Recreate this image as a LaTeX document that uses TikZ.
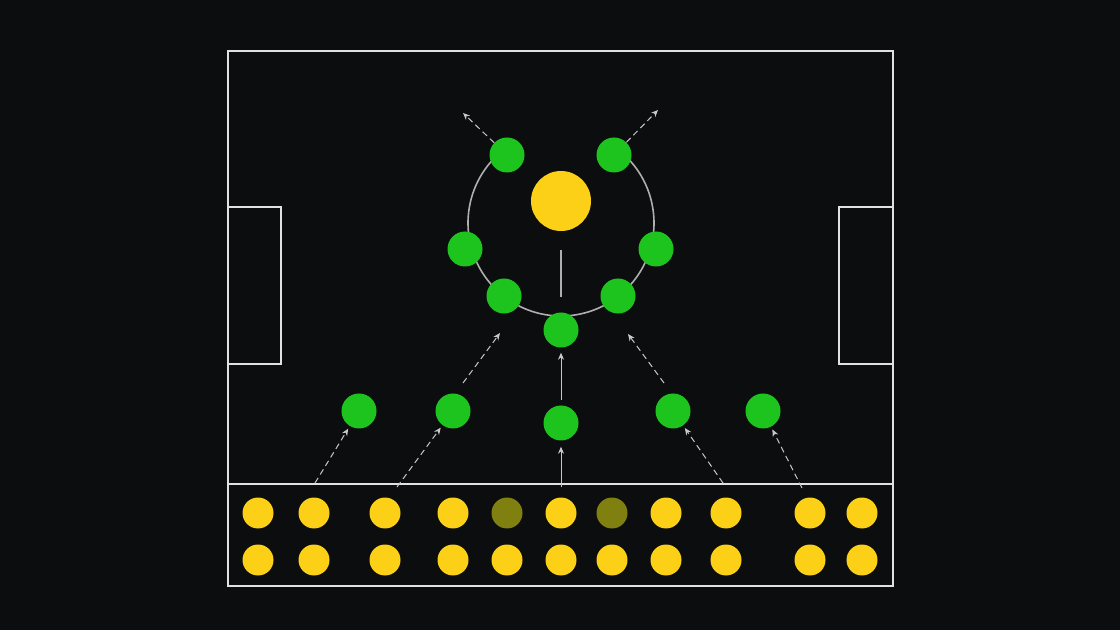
\documentclass[tikz,border=0pt]{standalone}
\usetikzlibrary{arrows.meta}
\definecolor{bg}{RGB}{12,13,14}
\definecolor{pitch}{RGB}{225,225,225}
\definecolor{ring}{RGB}{175,175,175}
\definecolor{pgreen}{RGB}{30,196,30}
\definecolor{pyellow}{RGB}{252,208,22}
\definecolor{polive}{RGB}{128,128,16}
\definecolor{arr}{RGB}{200,200,200}
\tikzset{
  line/.style={draw=pitch, line width=1.6pt},
  gplayer/.style={circle, fill=pgreen, minimum size=35pt, inner sep=0pt},
  ball/.style={circle, fill=pyellow, minimum size=60pt, inner sep=0pt},
  ydot/.style={circle, fill=pyellow, minimum size=31pt, inner sep=0pt},
  odot/.style={circle, fill=polive, minimum size=31pt, inner sep=0pt},
  dmove/.style={draw=arr, line width=1pt, dash pattern=on 6pt off 4pt, -{Stealth[length=7pt,width=6pt]}},
  smove/.style={draw=arr, line width=1pt, -{Stealth[length=7pt,width=6pt]}},
}
\begin{document}
\begin{tikzpicture}[x=1pt,y=1pt]
\fill[bg] (0,0) rectangle (1120,630);
\useasboundingbox (0,0) rectangle (1120,630);
% pitch
\draw[line] (228,44) rectangle (893,579);
\draw[line] (228,146) -- (893,146);
\draw[line] (228,423) -- (281,423) -- (281,266) -- (228,266);
\draw[line] (893,423) -- (839,423) -- (839,266) -- (893,266);
% ring
\draw[ring, line width=1.6pt] (561,407) ++(128:93) arc[start angle=128, end angle=412, radius=93];
\draw[ring, line width=1.3pt] (561,380) -- (561,333);
% ball
\node[ball] (ball) at (561,429) {};
% green players
\node[gplayer] (G1) at (507,475) {};
\node[gplayer] (G2) at (614,475) {};
\node[gplayer] (G3) at (465,381) {};
\node[gplayer] (G4) at (656,381) {};
\node[gplayer] (G5) at (504,334) {};
\node[gplayer] (G6) at (618,334) {};
\node[gplayer] (G7) at (561,300) {};
\node[gplayer] (M1) at (359,219) {};
\node[gplayer] (M2) at (453,219) {};
\node[gplayer] (M3) at (561,207) {};
\node[gplayer] (M4) at (673,219) {};
\node[gplayer] (M5) at (763,219) {};
% bench dots
\foreach \x [count=\i] in {258,314,385,453,507,561,612,666,726,810,862}{
  \ifnum\i=5 \node[odot] (T\i) at (\x,117) {};
  \else\ifnum\i=7 \node[odot] (T\i) at (\x,117) {};
  \else \node[ydot] (T\i) at (\x,117) {};
  \fi\fi
  \node[ydot] (B\i) at (\x,70) {};
}
% arrow end coordinates
\coordinate (t1) at (463,517);
\coordinate (t2) at (658,520);
\coordinate (s3) at (315,147);
\coordinate (s4) at (397,143);
\coordinate (s5) at (463,247);
\coordinate (e5) at (500,297);
\coordinate (s6) at (664,247);
\coordinate (e6) at (628,296);
\coordinate (s7) at (723,147);
\coordinate (s8) at (802,142);
\coordinate (s9) at (561,143);
\coordinate (s10) at (561,230);
% arrows
\draw[dmove] (G1) -- (t1);
\draw[dmove] (G2) -- (t2);
\draw[dmove, shorten >=3pt] (s3) -- (M1);
\draw[dmove, shorten >=3pt] (s4) -- (M2);
\draw[dmove] (s5) -- (e5);
\draw[dmove] (s6) -- (e6);
\draw[dmove, shorten >=3pt] (s7) -- (M4);
\draw[dmove, shorten >=3pt] (s8) -- (M5);
\draw[smove, shorten >=6pt] (s9) -- (M3);
\draw[smove, shorten >=5pt] (s10) -- (G7);
\end{tikzpicture}
\end{document}
